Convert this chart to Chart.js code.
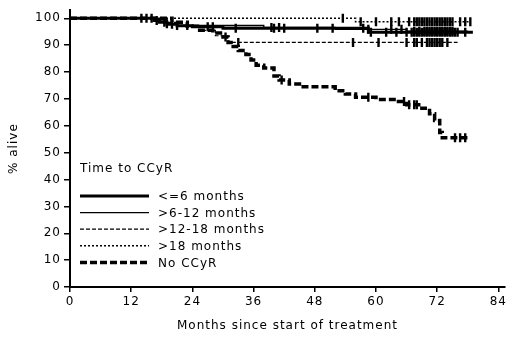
<!DOCTYPE html>
<html>
<head>
<meta charset="utf-8">
<script src="https://cdn.jsdelivr.net/npm/chart.js@4.4.1/dist/chart.umd.min.js"></script>
<style>
  html, body { margin: 0; padding: 0; background: #fff; }
  #wrap { width: 520px; height: 339px; position: relative; }
</style>
</head>
<body>
<div id="wrap"><canvas id="km"></canvas></div>
<script>
// Kaplan-Meier steps: month of each drop and % alive after it
const groupNames = ['<=6 months', '>6-12 months', '>12-18 months', '>18 months', 'No CCyR'];
const legendTitle = 'Time to CCyR';

const monthsLe6 = [0, 16.5, 17.5, 19, 21, 24, 30, 58.5, 79];
const aliveLe6  = [100, 99.2, 98.5, 97.8, 97.2, 96.8, 96.3, 94.8, 94.8];

const months6to12 = [0, 17, 19, 21, 38, 52, 66, 78];
const alive6to12  = [100, 99, 98, 97.3, 96.6, 95.9, 95.2, 95.2];

const months12to18 = [0, 19, 22, 26, 28.5, 31, 76];
const alive12to18  = [100, 98.5, 97, 95.5, 93.5, 91, 91];

const monthsGt18 = [0, 56, 78.5];
const aliveGt18  = [100, 98.7, 98.7];

const monthsNo = [0, 20, 23, 25, 28, 30, 31, 32, 33, 34.5, 35.5, 36.5, 38, 40, 41, 43, 45, 52, 54, 56, 60, 64, 66, 69, 70.5, 71.5, 72.5, 73, 78];
const aliveNo  = [100, 98.5, 97, 95.5, 94.5, 93, 91, 89.5, 88, 86.5, 84.5, 82.5, 81.5, 78.5, 77, 75.5, 74.5, 73, 71.8, 70.6, 69.8, 69, 67.8, 66.5, 64.5, 62, 57.5, 55.5, 55.5];

// censored observations (months)
const censorLe6 = [14, 15, 16, 17, 18.5, 20, 27, 28, 32.5, 40, 42, 48.5, 51.5, 57.5, 59, 62, 64, 66, 67, 67.5, 68, 68.5, 69, 69.5, 70, 70.5, 71, 71.5, 72, 72.5, 73, 73.5, 74, 74.5, 75, 75.5, 76, 77.5];
const censor6to12 = [19, 21, 23, 39.5, 41, 58.5, 63, 65, 67.5, 68.5, 69.5, 70, 70.5, 71, 71.5, 72, 72.5, 73, 73.5, 74, 74.5, 75];
const censor12to18 = [33, 55.5, 60.5, 66, 67.5, 68, 69, 70, 70.5, 71, 71.5, 72, 72.5, 73, 74];
const censorGt18 = [53.5, 57, 60, 63, 64.5, 66.5, 67.5, 68, 68.5, 69, 69.5, 70, 70.5, 71, 71.5, 72, 72.5, 73, 73.5, 74, 74.5, 75, 76.5, 77.5, 78.5];
const censorNo = [30.5, 41.5, 58.5, 65.5, 66.5, 67.5, 68, 75.5, 76.5, 77.5];

const xTicks = [0, 12, 24, 36, 48, 60, 72, 84];
const yTicks = [0, 10, 20, 30, 40, 50, 60, 70, 80, 90, 100];

function kmAt(months, alive, t) {
    let v = alive[0];
    for (let i = 0; i < months.length; i++) {
        if (months[i] <= t) v = alive[i];
    }
    return v;
}

const curveStyles = [
    { borderWidth: 3, borderDash: [] },
    { borderWidth: 1.3, borderDash: [] },
    { borderWidth: 1.2, borderDash: [4, 2] },
    { borderWidth: 1.6, borderDash: [2, 2] },
    { borderWidth: 3.5, borderDash: [7, 3] }
];
const curves = [
    [monthsLe6, aliveLe6, censorLe6],
    [months6to12, alive6to12, censor6to12],
    [months12to18, alive12to18, censor12to18],
    [monthsGt18, aliveGt18, censorGt18],
    [monthsNo, aliveNo, censorNo]
];

const datasets = [];
curves.forEach((c, i) => {
    datasets.push({
        label: groupNames[i],
        data: c[0].map((m, k) => ({ x: m, y: c[1][k] })),
        stepped: true,
        borderColor: '#000',
        borderWidth: curveStyles[i].borderWidth,
        borderDash: curveStyles[i].borderDash,
        pointRadius: 0,
        fill: false,
        isCurve: true
    });
});
curves.forEach((c, i) => {
    datasets.push({
        label: groupNames[i] + ' censored',
        data: c[2].map(m => ({ x: m, y: kmAt(c[0], c[1], m) })),
        showLine: false,
        pointStyle: 'line',
        rotation: 90,
        pointRadius: 4.5,
        pointBorderWidth: 2.4,
        pointBorderColor: '#000',
        pointBackgroundColor: '#000'
    });
});

// legend drawn inside the plot area, as in the original
const insideLegend = {
    id: 'insideLegend',
    afterDatasetsDraw(chart) {
        const ctx = chart.ctx;
        ctx.save();
        ctx.fillStyle = '#000';
        ctx.strokeStyle = '#000';
        ctx.font = '12px "DejaVu Sans"';
        ctx.textBaseline = 'middle';
        ctx.textAlign = 'left';
        ctx.fillText(legendTitle, 80, 169);
        chart.data.datasets.filter(d => d.isCurve).forEach((d, i) => {
            const y = 196 + i * 16.6;
            ctx.lineWidth = d.borderWidth;
            ctx.setLineDash(d.borderDash);
            ctx.beginPath();
            ctx.moveTo(80, y);
            ctx.lineTo(149, y);
            ctx.stroke();
            ctx.setLineDash([]);
            ctx.fillText(d.label, 158, y + 1);
        });
        ctx.restore();
    }
};

const spacing = {
    id: 'spacing',
    beforeDraw(chart) { chart.ctx.letterSpacing = '1px'; }
};

Chart.defaults.font.family = '"DejaVu Sans", Verdana, sans-serif';
Chart.defaults.font.size = 12;
Chart.defaults.color = '#000';

new Chart(document.getElementById('km'), {
    type: 'line',
    data: { datasets: datasets },
    options: {
        responsive: true,
        maintainAspectRatio: false,
        animation: false,
        layout: { padding: { top: 4, right: 15, left: 0, bottom: 0 } },
        plugins: { legend: { display: false }, tooltip: { enabled: false } },
        scales: {
            x: {
                type: 'linear',
                min: 0,
                max: 85.3,
                afterFit(scale) { scale.height = 52; },
                afterBuildTicks(scale) { scale.ticks = xTicks.map(v => ({ value: v })); },
                ticks: { padding: 3, maxRotation: 0, callback: v => v },
                grid: { drawOnChartArea: false, drawTicks: true, tickLength: 5, color: '#000', lineWidth: 1.5 },
                border: { display: true, color: '#000', width: 2 },
                title: { display: true, text: 'Months since start of treatment', padding: { top: 0, bottom: 6 } }
            },
            y: {
                min: 0,
                max: 103,
                afterFit(scale) { scale.width = 70; },
                afterBuildTicks(scale) { scale.ticks = yTicks.map(v => ({ value: v })); },
                ticks: { padding: 3, callback: v => v },
                grid: { drawOnChartArea: false, drawTicks: true, tickLength: 6, color: '#000', lineWidth: 1.5 },
                border: { display: true, color: '#000', width: 2 },
                title: { display: true, text: '% alive', padding: { top: 7, bottom: 0 } }
            }
        }
    },
    plugins: [spacing, insideLegend]
});
</script>
</body>
</html>
